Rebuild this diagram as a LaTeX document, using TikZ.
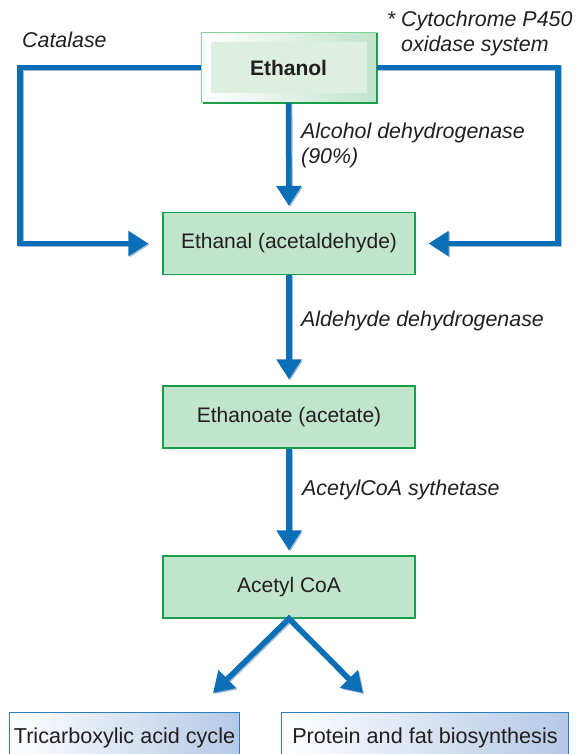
\documentclass[tikz,border=0pt]{standalone}
\usepackage{fontspec}
\setmainfont{Liberation Sans}
\usetikzlibrary{arrows.meta}
\definecolor{txt}{HTML}{231F20}
\definecolor{gfill}{HTML}{C1E4CC}
\definecolor{gline}{HTML}{1A9E4A}
\definecolor{gpale}{HTML}{DCEFE1}
\definecolor{gedge}{HTML}{86D09C}
\definecolor{bline}{HTML}{0B6FB8}
\definecolor{bshade}{HTML}{B4C8E6}
\definecolor{bedge}{HTML}{2B7EC1}
\definecolor{shadowc}{HTML}{A9BCD2}
\begin{document}
\begin{tikzpicture}[x=1pt,y=-1pt,
  every node/.style={text=txt, font=\fontsize{21}{25}\selectfont},
  greenbox/.style={draw=gline, line width=1.2pt, fill=gfill, minimum width=252pt, minimum height=62pt, inner sep=0pt},
  bluebox/.style={draw=bedge, line width=1pt, left color=white, right color=bshade, minimum height=50pt, inner sep=0pt, anchor=north west, font=\fontsize{21.6}{25}\selectfont},
  lab/.style={font=\fontsize{21.4}{25}\selectfont\itshape, align=left, anchor=west, inner sep=0pt},
  flow/.style={draw=bline, line width=5.5pt, -{Triangle[length=20pt,width=24pt]},
    preaction={draw=shadowc, line width=5.5pt, transform canvas={shift={(1.2pt,-1.2pt)}}}},
]
\useasboundingbox (0,0) rectangle (576,754);

% Ethanol box
\node[draw=gedge, line width=1pt, left color=white, right color=gfill,
  minimum width=175pt, minimum height=70pt, inner sep=0pt,
  path picture={\fill[gpale] ([shift={(10,10)}]path picture bounding box.north west) rectangle ([shift={(-9,-9)}]path picture bounding box.south east);},
  font=\fontsize{21}{25}\selectfont\bfseries] (eth) at (288.5,67.5) {Ethanol};
\draw[gline, line width=2pt] ([yshift=-1pt]eth.north east) -- (eth.south east) -- ([xshift=2pt]eth.south west);

\node[greenbox] (eal) at (289,243.5) {Ethanal (acetaldehyde)};
\node[greenbox] (eoa) at (289,417) {Ethanoate (acetate)};
\node[greenbox] (acoa) at (289,587) {Acetyl CoA};

\node[bluebox, minimum width=230pt] (tca) at (9,712) {Tricarboxylic acid cycle};
\node[bluebox, minimum width=287pt] (pfb) at (281,712) {Protein and fat biosynthesis};

\coordinate (lc) at (20,150);
\coordinate (rc) at (558,150);
\coordinate (t1) at (213,693);
\coordinate (t2) at (363,693);

\draw[flow, shorten >=14pt] (eth.west) -| (lc) |- (eal.west);
\draw[flow, shorten >=13pt] (eth.east) -| (rc) |- (eal.east);
\draw[flow, shorten >=6pt] (eth.south) -- (eal.north);
\draw[flow, shorten >=6pt] (eal.south) -- (eoa.north);
\draw[flow, shorten >=5pt] (eoa.south) -- (acoa.north);
\draw[flow, {Triangle[length=20pt,width=24pt]}-{Triangle[length=20pt,width=24pt]}] (t1) -- (acoa.south) -- (t2);

\node[lab] (catl) at (22,40) {Catalase};
\node[lab] (cyt) at (401,33) {\llap{* }Cytochrome P450\\oxidase system};
\node[lab] (adh) at (301,145) {Alcohol dehydrogenase\\(90\%)};
\node[lab] (aldh) at (301,321) {Aldehyde dehydrogenase};
\node[lab] (acs) at (302,490) {AcetylCoA sythetase};
\end{tikzpicture}
\end{document}
